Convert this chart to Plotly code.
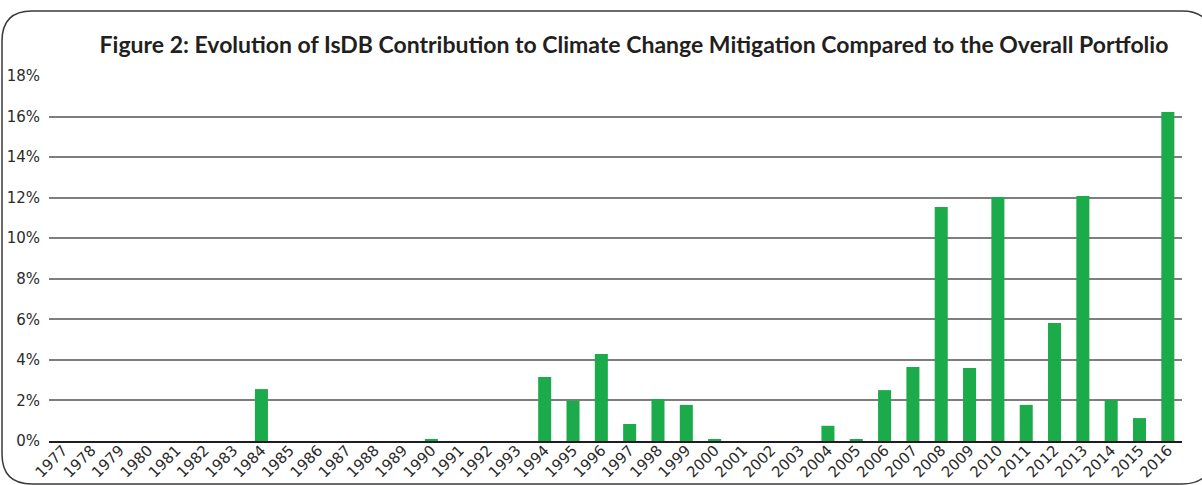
import plotly.graph_objects as go

# Share of IsDB approvals going to climate change mitigation, by year (%)
years = [str(y) for y in range(1977, 2017)]
mitigation_share = [
    0, 0, 0, 0, 0, 0, 0, 2.56, 0, 0,          # 1977-1986
    0, 0, 0, 0.10, 0, 0, 0, 3.16, 1.99, 4.29,  # 1987-1996
    0.84, 2.07, 1.78, 0.06, 0, 0, 0, 0.75, 0.10, 2.51,  # 1997-2006
    3.65, 11.54, 3.60, 12.03, 1.78, 5.82, 12.08, 2.02, 1.13, 16.22,  # 2007-2016
]
y_ticks = list(range(0, 19, 2))

W, H = 1202, 485
ML, MR, MT, MB = 49, 20, 76, 44
plot_w = W - ML - MR
plot_h = H - MT - MB


def px_to_paper(px, py):
    return (px - ML) / plot_w, (H - MB - py) / plot_h


fig = go.Figure(
    go.Bar(
        x=years,
        y=mitigation_share,
        marker=dict(color="#1bab4b", line=dict(width=0)),
        hoverinfo="x+y",
    )
)

# Rounded frame around the whole figure
x0, y0 = px_to_paper(2, 11)
x1, y1 = px_to_paper(1212, 484)
rx = 30 / plot_w
ry = 30 / plot_h
frame = (
    f"M {x0 + rx},{y0} L {x1 - rx},{y0} Q {x1},{y0} {x1},{y0 - ry} "
    f"L {x1},{y1 + ry} Q {x1},{y1} {x1 - rx},{y1} "
    f"L {x0 + rx},{y1} Q {x0},{y1} {x0},{y1 + ry} "
    f"L {x0},{y0 - ry} Q {x0},{y0} {x0 + rx},{y0} Z"
)

fig.update_layout(
    width=W,
    height=H,
    margin=dict(l=ML, r=MR, t=MT, b=MB, pad=0, autoexpand=False),
    paper_bgcolor="white",
    plot_bgcolor="white",
    bargap=0.54,
    showlegend=False,
    font=dict(family="DejaVu Sans", size=15, color="#2b2b2b"),
    title=dict(
        text="Figure 2: Evolution of IsDB Contribution to Climate Change Mitigation Compared to the Overall Portfolio",
        x=634 / W,
        xanchor="center",
        y=1 - 45 / H,
        yanchor="middle",
        font=dict(family="Lato", size=23, color="#231f20", weight="bold"),
    ),
    shapes=[
        dict(
            type="path",
            path=frame,
            xref="paper",
            yref="paper",
            line=dict(color="#3a3a3a", width=1.5),
            layer="below",
        )
    ],
    xaxis=dict(
        type="category",
        tickangle=-45,
        automargin=False,
        showgrid=False,
        showline=True,
        linecolor="#1e1e1e",
        linewidth=1.5,
        ticks="",
        ticklabelstandoff=-7,
        tickfont=dict(size=15, color="#2b2b2b"),
        layer="above traces",
    ),
    yaxis=dict(
        range=[0, 18],
        tickvals=y_ticks,
        ticktext=[f"{v}%" for v in y_ticks],
        automargin=False,
        showgrid=True,
        gridcolor="rgba(40,40,40,0.6)",
        gridwidth=1.5,
        zeroline=False,
        showline=False,
        ticks="",
        ticklabelstandoff=8,
        tickfont=dict(size=15, color="#2b2b2b"),
        layer="above traces",
    ),
)

fig.write_html("out.html")
